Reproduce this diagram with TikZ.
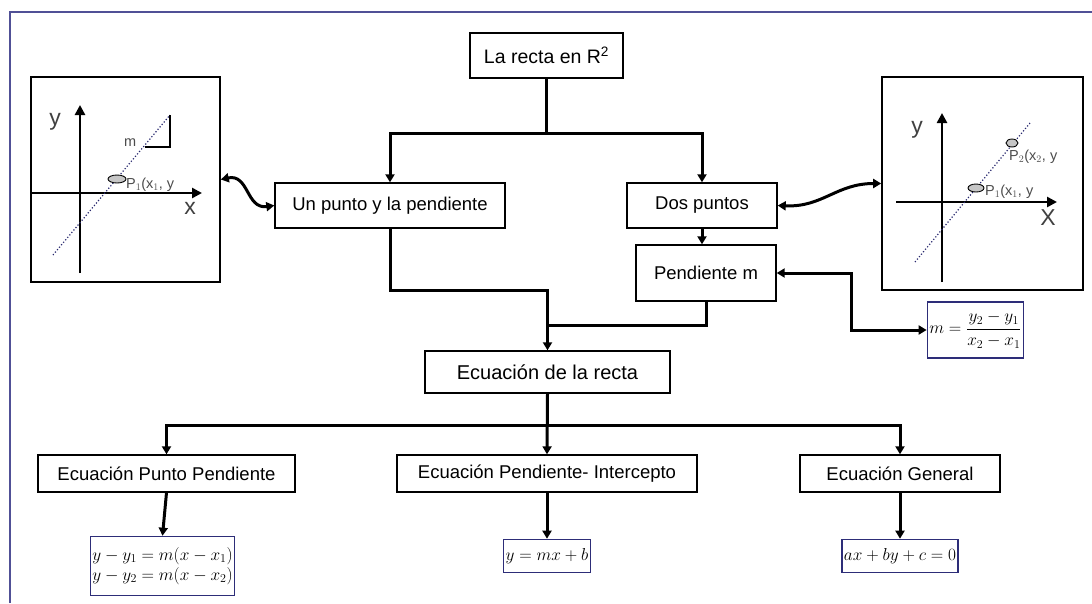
\documentclass[tikz,border=0pt]{standalone}
\usepackage[no-math]{fontspec}
\setmainfont{Liberation Sans}
\usetikzlibrary{arrows.meta, positioning, calc}

\definecolor{framecol}{RGB}{80,80,150}
\definecolor{formcol}{RGB}{45,45,120}
\definecolor{dotcol}{RGB}{40,40,110}

\begin{document}
\begin{tikzpicture}[x=1pt, y=-1pt,
    box/.style={draw, line width=1.4pt, minimum height=45pt, inner sep=2pt, font=\fontsize{18.5}{21}\selectfont},
    formbox/.style={draw=formcol, line width=1.4pt, inner sep=2pt, font=\fontsize{17}{19}\selectfont},
    plotbox/.style={draw, line width=1.6pt},
    plotlabel/.style={text=black!75, font=\fontsize{23}{23}\selectfont, inner sep=0pt},
    ptlabel/.style={text=black!70, font=\fontsize{14.5}{14.5}\selectfont, inner sep=0pt, anchor=west},
    ptmark/.style={draw, fill=gray!45, line width=0.9pt},
    line/.style={line width=3pt},
    arrow/.style={line, -{Triangle[length=8pt,width=9pt]}},
    twoway/.style={line, {Triangle[length=8pt,width=9pt]}-{Triangle[length=8pt,width=9pt]}},
    axis/.style={line width=2.8pt, -{Triangle[length=10pt,width=10pt]}}
]
    \useasboundingbox (0,0) rectangle (1092,603);
    % Frame
    \draw[framecol, line width=2pt] (10,603) -- (10,12) -- (1092,12);

    % Title
    \node[box, minimum width=153pt, font=\fontsize{19.5}{21}\selectfont] (title) at (546.5,55.5) {La recta en R\textsuperscript{2}};

    % Two ways
    \node[box, minimum width=230pt] (unpunto) at (390,205.5) {Un punto y la pendiente};
    \node[box, minimum width=150pt] (dos) at (702,205.5) {Dos puntos};
    \node[box, minimum width=140pt, minimum height=56pt] (pend) at (706,273) {Pendiente m};
    \node[formbox, minimum width=95pt, minimum height=56pt] (mform) at (975.5,330) {$m=\displaystyle\frac{y_2-y_1}{x_2-x_1}$};

    % Equation
    \node[box, minimum width=245pt, minimum height=42pt, font=\fontsize{20}{22}\selectfont] (ecuacion) at (547.5,372) {Ecuación de la recta};
    \coordinate (join) at (548,325);

    % Three forms
    \node[box, minimum width=257pt, minimum height=37pt] (eqpp) at (166.5,473.5) {Ecuación Punto Pendiente};
    \node[box, minimum width=300pt, minimum height=37pt] (eqpi) at (547,473.5) {Ecuación Pendiente- Intercepto};
    \node[box, minimum width=200pt, minimum height=37pt] (eqg) at (900,473.5) {Ecuación General};

    % Formulas
    \node[formbox, minimum width=141pt, minimum height=59pt, align=center, below=43pt of eqpp, xshift=-4pt] (ppform) {$y-y_1=m(x-x_1)$\\[1pt]$y-y_2=m(x-x_2)$};
    \node[formbox, minimum width=85pt, minimum height=33pt, below=46pt of eqpi] (piform) {$y=mx+b$};
    \node[formbox, minimum width=113pt, minimum height=33pt, below=46pt of eqg] (gform) {$ax+by+c=0$};

    % Left plot
    \node[plotbox, minimum width=189pt, minimum height=205pt] (leftplot) at (125.5,179.5) {};
    \draw[axis] (80,273) -- (80,105);
    \draw[axis] (32,193) -- (202,193);
    \draw[dotcol, dotted, line width=1.2pt] (53,255) -- (170,115);
    \draw[line width=1.1pt] (170,115) -- (170,147) -- (145,147);
    \node[ptlabel] (mlabel) at (124,143) {m};
    \node[plotlabel] (ly1) at (55,122) {y};
    \node[plotlabel] (lx1) at (190,208) {x};
    \draw[ptmark] (117,179) ellipse (9pt and 4pt);
    \node[ptlabel] (lp1) at (126,185) {P$_1$(x$_1$, y};

    % Right plot
    \node[plotbox, minimum width=201pt, minimum height=213pt] (rightplot) at (982.5,183.5) {};
    \draw[axis] (942,282) -- (942,113);
    \draw[axis] (896,202) -- (1057,202);
    \draw[dotcol, dotted, line width=1.2pt] (915,262) -- (1030,123);
    \node[plotlabel] (ry1) at (917,130) {y};
    \node[plotlabel] (rx1) at (1048,218) {X};
    \draw[ptmark] (976,188) ellipse (8pt and 4pt);
    \draw[ptmark] (1012,143) ellipse (6pt and 4pt);
    \node[ptlabel] (rp1) at (985,192) {P$_1$(x$_1$, y};
    \node[ptlabel] (rp2) at (1009,157) {P$_2$(x$_2$, y};

    % Arrows
    \draw[arrow] (title.south) -- ++(0,55) -| (unpunto.north);
    \draw[arrow] (title.south) -- ++(0,55) -| (dos.north);
    \draw[arrow] (dos.south) -- (dos.south |- pend.north);
    \draw[arrow] (unpunto.south) -- ++(0,62) -| (ecuacion.north);
    \draw[line] (pend.south) |- (join);
    \draw[twoway] (pend.east) -- ++(75,0) |- (mform.west);
    \draw[twoway] (leftplot.east) .. controls +(28,-6) and +(-28,4) .. (unpunto.west);
    \draw[twoway] (dos.east) .. controls +(45,2) and +(-45,0) .. (rightplot.west);
    \draw[arrow] (ecuacion.south) -- ++(0,32) -| (eqpp.north);
    \draw[arrow] (ecuacion.south) -- ++(0,32) -| (eqg.north);
    \draw[arrow] (ecuacion.south) -- (eqpi.north);
    \draw[arrow] (eqpp.south) -- (ppform.north);
    \draw[arrow] (eqpi.south) -- (piform.north);
    \draw[arrow] (eqg.south) -- (gform.north);
\end{tikzpicture}
\end{document}
